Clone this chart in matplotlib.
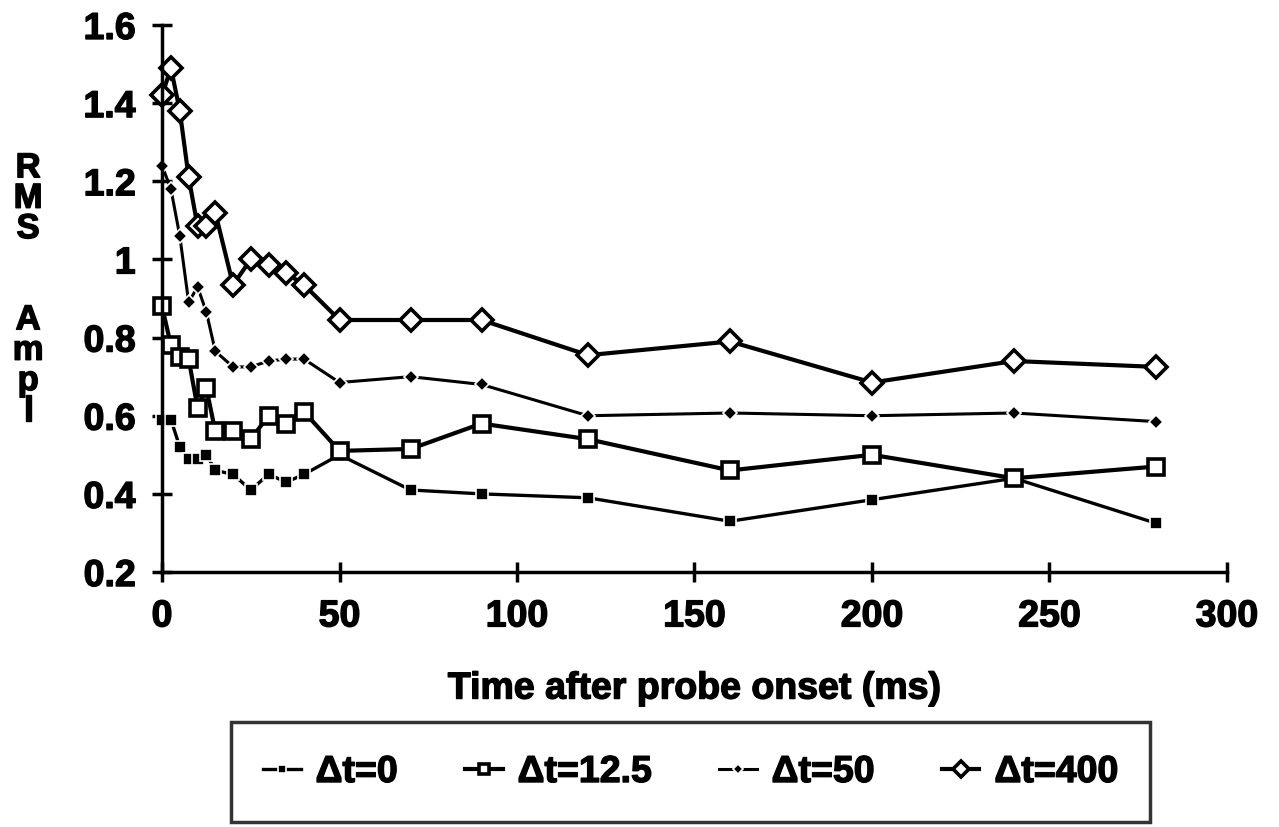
import matplotlib.pyplot as plt
import matplotlib.patheffects as pe

# time after probe onset (ms)
time_ms = [0, 2.5, 5, 7.5, 10, 12.5, 15, 20, 25, 30, 35, 40,
           50, 70, 90, 120, 160, 200, 240, 280]

# RMS amplitude for each probe delay
rms_dt0 = [0.59, 0.59, 0.52, 0.49, 0.49, 0.50, 0.46, 0.45, 0.41, 0.45, 0.43, 0.45,
           0.50, 0.41, 0.40, 0.39, 0.33, 0.385, 0.44, 0.325]
rms_dt12 = [0.88, 0.78, 0.75, 0.745, 0.62, 0.67, 0.56, 0.56, 0.54, 0.60, 0.58, 0.61,
            0.51, 0.515, 0.58, 0.54, 0.46, 0.50, 0.44, 0.47]
rms_dt50 = [1.24, 1.18, 1.06, 0.89, 0.93, 0.865, 0.765, 0.725, 0.725, 0.74, 0.745, 0.745,
            0.685, 0.70, 0.68, 0.60, 0.607, 0.60, 0.607, 0.585]
rms_dt400 = [1.42, 1.49, 1.38, 1.21, 1.085, 1.085, 1.12, 0.935, 1.0, 0.985, 0.965, 0.935,
             0.845, 0.845, 0.845, 0.755, 0.79, 0.685, 0.74, 0.725]

series_labels = ['\u0394t=0', '\u0394t=12.5', '\u0394t=50', '\u0394t=400']
x_ticks = [0, 50, 100, 150, 200, 250, 300]
y_ticks = [0.2, 0.4, 0.6, 0.8, 1.0, 1.2, 1.4, 1.6]
y_tick_labels = ['0.2', '0.4', '0.6', '0.8', '1', '1.2', '1.4', '1.6']

plt.rcParams['font.family'] = ['Liberation Sans', 'DejaVu Sans']
plt.rcParams['font.weight'] = 'bold'

# thicken the bold glyphs a little
heavy = [pe.withStroke(linewidth=1.0, foreground='black')]

fig = plt.figure(figsize=(12.79, 8.27), dpi=100)
ax = fig.add_axes([0.1267, 0.3083, 0.8326, 0.6615])

common = dict(color='black', clip_on=False)
ax.plot(time_ms, rms_dt0, lw=2.4, marker='s', ms=8, mfc='black', mec='white',
        mew=1.2, label=series_labels[0], **common)
ax.plot(time_ms, rms_dt12, lw=3.0, marker='s', ms=11, mfc='white', mec='black',
        mew=2.6, label=series_labels[1], **common)
ax.plot(time_ms, rms_dt50, lw=2.2, marker='D', ms=7, mfc='black', mec='white',
        mew=1.2, label=series_labels[2], **common)
ax.plot(time_ms, rms_dt400, lw=3.0, marker='D', ms=11, mfc='white', mec='black',
        mew=2.6, label=series_labels[3], **common)

ax.set_xlim(0, 300)
ax.set_ylim(0.2, 1.6)
ax.set_xticks(x_ticks)
ax.set_yticks(y_ticks)
ax.set_yticklabels(y_tick_labels)
for side in ('top', 'right'):
    ax.spines[side].set_visible(False)
for side in ('left', 'bottom'):
    ax.spines[side].set_linewidth(2.5)
ax.tick_params(direction='inout', length=14, width=2.5, labelsize=27)
ax.tick_params(axis='x', pad=12)
ax.tick_params(axis='y', pad=12)
for lbl in ax.get_xticklabels() + ax.get_yticklabels():
    lbl.set_fontweight('bold')
    lbl.set_path_effects(heavy)

xl = ax.set_xlabel('Time after probe onset (ms)', fontsize=27, fontweight='bold', labelpad=26)
xl.set_path_effects(heavy)
fig.text(0.022, 0.65, 'R\nM\nS\n\n\nA\nm\np\nl', ha='center', va='center',
         fontsize=25, fontweight='bold', linespacing=0.9, path_effects=heavy)

leg = fig.legend(loc='center', bbox_to_anchor=(0.540, 0.0665), ncol=4,
                 frameon=True, fancybox=False, edgecolor='black',
                 handlelength=1.0, handletextpad=0.4, columnspacing=1.8,
                 markerscale=0.7, borderpad=0.85,
                 prop={'weight': 'bold', 'size': 27})
leg.get_frame().set_linewidth(2.5)
for t in leg.get_texts():
    t.set_path_effects(heavy)

fig.savefig('out.png', dpi=100)
